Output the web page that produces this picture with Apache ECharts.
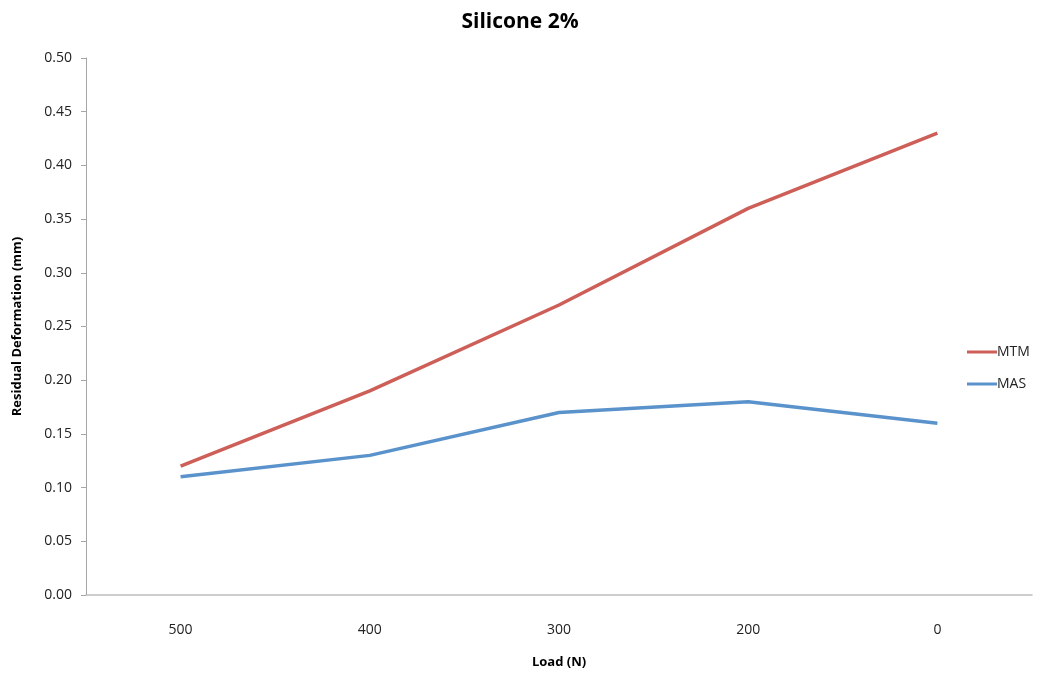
<!DOCTYPE html>
<html>
<head>
<meta charset="utf-8">
<script src="https://cdn.jsdelivr.net/npm/echarts@6/dist/echarts.min.js"></script>
<style>
  html, body { margin: 0; padding: 0; background: #fff; }
  #chart { width: 1040px; height: 674px; }
</style>
</head>
<body>
<div id="chart"></div>
<script>
const loads = ['500', '400', '300', '200', '0'];
const mtm = [0.12, 0.19, 0.27, 0.36, 0.43];
const mas = [0.11, 0.13, 0.17, 0.18, 0.16];

const font = 'Open Sans, Liberation Sans, sans-serif';
const chart = echarts.init(document.getElementById('chart'));
chart.setOption({
  animation: false,
  backgroundColor: '#fff',
  title: {
    text: 'Silicone 2%',
    left: 'center',
    top: 7,
    textStyle: { fontFamily: font, fontSize: 21, fontWeight: 'bold', color: '#000' }
  },
  legend: {
    orient: 'vertical',
    left: 962,
    top: 340,
    itemWidth: 30,
    itemHeight: 3,
    itemGap: 18,
    icon: 'rect',
    textStyle: { fontFamily: font, fontSize: 14, color: '#222', padding: [0, 0, 0, -5] },
    data: ['MTM', 'MAS']
  },
  grid: { left: 86, right: 8, top: 58, bottom: 78, containLabel: false },
  xAxis: {
    type: 'category',
    data: loads,
    boundaryGap: true,
    name: 'Load (N)',
    nameLocation: 'middle',
    nameGap: 61,
    nameTextStyle: { fontFamily: font, fontSize: 13, fontWeight: 'bold', color: '#000' },
    axisLine: { lineStyle: { color: '#BDBDBD', width: 1.5 } },
    axisTick: { show: false },
    axisLabel: { fontFamily: font, fontSize: 14, color: '#222', margin: 28 },
    splitLine: { show: false }
  },
  yAxis: {
    type: 'value',
    min: 0,
    max: 0.5,
    interval: 0.05,
    name: 'Residual Deformation (mm)',
    nameLocation: 'middle',
    nameGap: 62,
    nameTextStyle: { fontFamily: font, fontSize: 13, fontWeight: 'bold', color: '#000' },
    axisLine: { show: true, lineStyle: { color: '#A6A6A6', width: 1 } },
    axisTick: { show: true, length: 5, lineStyle: { color: '#A6A6A6' } },
    axisLabel: { fontFamily: font, fontSize: 14, color: '#222', margin: 14, formatter: v => v.toFixed(2) },
    splitLine: { show: false }
  },
  series: [
    {
      name: 'MTM', type: 'line', data: mtm, symbol: 'none',
      lineStyle: { color: '#CD5F58', width: 3.5 }, itemStyle: { color: '#CD5F58' }
    },
    {
      name: 'MAS', type: 'line', data: mas, symbol: 'none',
      lineStyle: { color: '#5A92CB', width: 3.5 }, itemStyle: { color: '#5A92CB' }
    }
  ]
});
</script>
</body>
</html>
